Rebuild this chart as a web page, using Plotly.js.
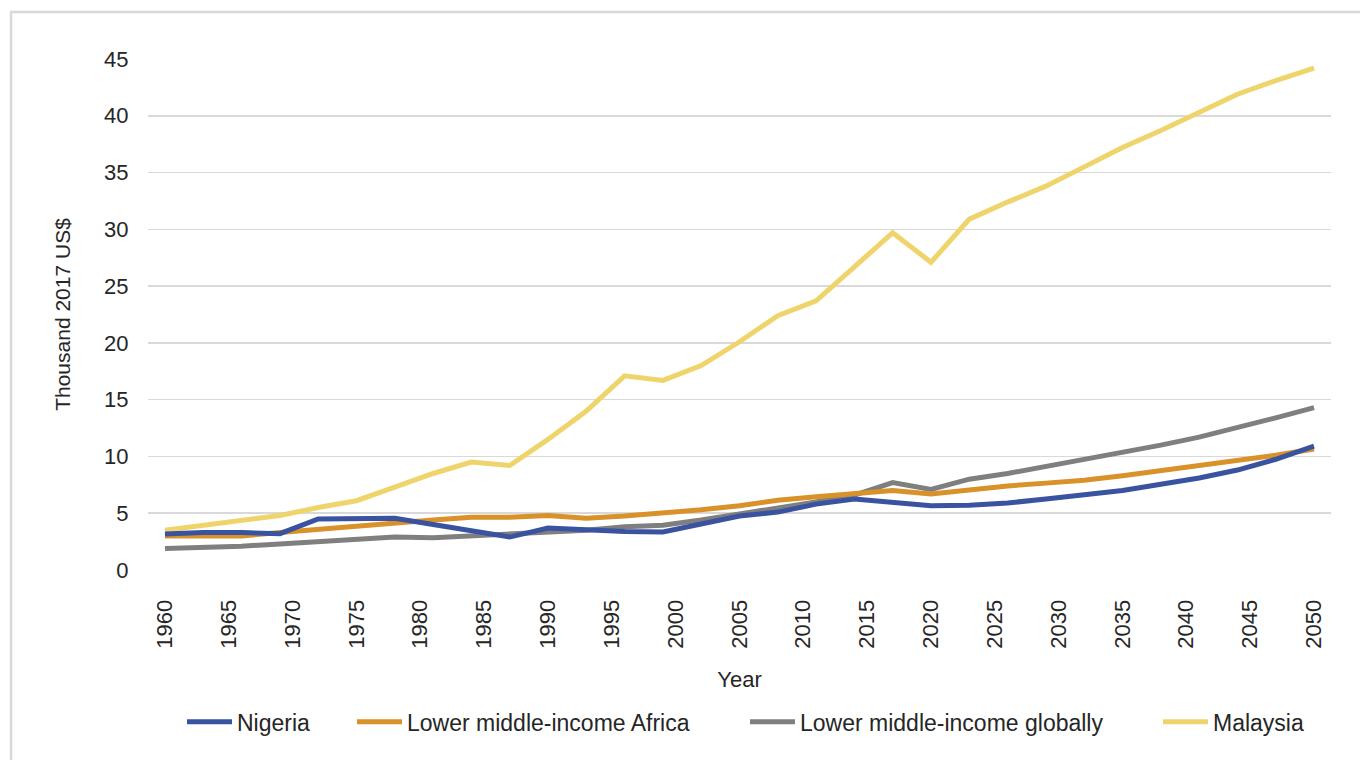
<!DOCTYPE html>
<html>
<head>
<meta charset="utf-8">
<script src="https://cdn.plot.ly/plotly-3.0.1.min.js"></script>
<style>
html,body{margin:0;padding:0;background:#fff;}
#chart{width:1360px;height:760px;}
</style>
</head>
<body>
<div id="chart"></div>
<script>
const years = [1960,1963,1966,1969,1972,1975,1978,1981,1984,1987,1990,1993,1996,1999,2002,2005,2008,2011,2014,2017,2020,2023,2026,2029,2032,2035,2038,2041,2044,2047,2050];
const nigeria = [3.17,3.3,3.3,3.2,4.5,4.55,4.55,4.0,3.4,2.9,3.7,3.5,3.4,3.35,4.1,4.75,5.1,5.8,6.25,5.9,5.65,5.7,5.9,6.25,6.6,7.0,7.55,8.1,8.8,9.75,10.9];
const lmiAfrica = [3.0,2.95,3.0,3.3,3.6,3.8,4.2,4.4,4.65,4.65,4.8,4.55,4.75,5.0,5.3,5.65,6.15,6.45,6.75,7.0,6.7,7.1,7.4,7.65,7.9,8.3,8.75,9.1,9.6,10.1,10.65];
const lmiGlobal = [1.9,1.95,2.1,2.3,2.5,2.7,2.9,2.85,3.0,3.15,3.4,3.5,3.8,3.95,4.4,4.9,5.45,6.0,6.6,7.7,7.1,8.0,8.5,9.1,9.7,10.3,11.0,11.7,12.5,13.4,14.3];
const malaysia = [3.5,3.96,4.35,4.8,5.5,6.1,7.3,8.5,9.5,9.2,11.5,14.0,17.1,16.7,18.0,20.1,22.4,23.7,26.7,29.7,27.1,30.9,32.4,33.8,35.5,37.2,38.7,40.3,41.9,43.1,44.2];
const seriesNames = ["Nigeria","Lower middle-income Africa","Lower middle-income globally","Malaysia"];
const tickYears = [1960,1965,1970,1975,1980,1985,1990,1995,2000,2005,2010,2015,2020,2025,2030,2035,2040,2045,2050];
const yTicks = [0,5,10,15,20,25,30,35,40,45];

const FONT = "'Liberation Sans', Arial, Helvetica, sans-serif";
const TXT = '#262626';
function tr(name, y, color, leg){
  return {x: years, y: y, name: name, type: 'scatter', mode: 'lines',
    line: {color: color, width: 5, shape: 'linear'}, legend: leg, hoverinfo: 'x+y+name'};
}
const data = [
  tr(seriesNames[2], lmiGlobal, '#7f7f7f', 'legend3'),
  tr(seriesNames[1], lmiAfrica, '#d9912a', 'legend2'),
  tr(seriesNames[3], malaysia, '#efd46c', 'legend4'),
  tr(seriesNames[0], nigeria, '#3a53a1', 'legend')
];
function leg(px){
  return {orientation: 'h', x: (px - 148) / 1183, xanchor: 'left', y: -0.297, yanchor: 'middle',
    font: {family: FONT, size: 23, color: TXT}, bgcolor: 'rgba(0,0,0,0)', borderwidth: 0, itemwidth: 45};
}
const layout = {
  width: 1360, height: 760,
  margin: {l: 148, r: 29, t: 59, b: 190},
  paper_bgcolor: '#ffffff', plot_bgcolor: '#ffffff',
  font: {family: FONT, size: 22, color: TXT},
  showlegend: true,
  legend: leg(182),
  legend2: leg(352),
  legend3: leg(745),
  legend4: leg(1158),
  xaxis: {range: [1958.67, 2051.33], tickmode: 'array', tickvals: tickYears, ticktext: tickYears.map(String),
    tickangle: -90, showgrid: false, zeroline: false, showline: false,
    ticks: 'outside', ticklen: 20, tickcolor: 'rgba(0,0,0,0)',
    tickfont: {family: FONT, size: 22, color: TXT},
    title: {text: 'Year', font: {family: FONT, size: 22, color: TXT}, standoff: 23}},
  yaxis: {range: [0, 45], tickmode: 'array', tickvals: yTicks, showgrid: true, gridcolor: '#d9d9d9', gridwidth: 1.5,
    zeroline: false, showline: false, ticks: 'outside', ticklen: 14, tickcolor: 'rgba(0,0,0,0)',
    tickfont: {family: FONT, size: 22, color: TXT},
    title: {text: 'Thousand 2017 US$', font: {family: FONT, size: 21, color: TXT}, standoff: 27}},
  shapes: [{type: 'rect', xref: 'paper', yref: 'paper', x0: -0.1158, x1: 1.05, y0: -0.45, y1: 1.092,
    line: {color: '#d9d9d9', width: 2.5}, fillcolor: 'rgba(0,0,0,0)', layer: 'below'}]
};
Plotly.newPlot('chart', data, layout, {displayModeBar: false, staticPlot: true});
</script>
</body>
</html>
